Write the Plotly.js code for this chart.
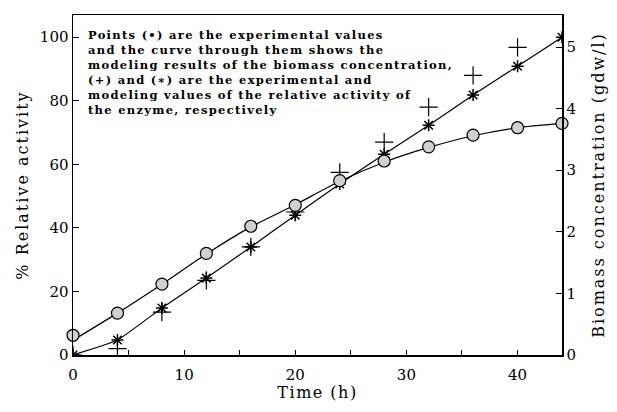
<!DOCTYPE html>
<html>
<head>
<meta charset="utf-8">
<script src="https://cdn.plot.ly/plotly-3.0.1.min.js"></script>
<style>
html,body{margin:0;padding:0;background:#fff}
#chart{width:617px;height:412px}
.ytitle,.y2title{letter-spacing:2px}
.xtitle{letter-spacing:1.5px}
.annotation-text{letter-spacing:1.3px}
</style>
</head>
<body>
<div id="chart"></div>
<script>
// Time (h)
const timeH = [0, 4, 8, 12, 16, 20, 24, 28, 32, 36, 40, 44];
// Biomass concentration (gdw/l) - experimental
const biomassExp = [0.32, 0.68, 1.15, 1.65, 2.09, 2.43, 2.83, 3.15, 3.38, 3.57, 3.69, 3.76];
// Biomass - model curve
const biomassModel = [0.24, 0.68, 1.15, 1.64, 2.08, 2.44, 2.82, 3.13, 3.37, 3.56, 3.69, 3.76];
// Relative activity (%) - experimental (+)
const activityTime = [0, 4, 8, 12, 16, 20, 24, 28, 32, 36, 40];
const activityExp = [0, 2, 13.5, 23.5, 34, 45, 57.5, 67, 78, 88, 96.8];
// Relative activity (%) - model (*)
const activityModel = [0, 4.7, 14.8, 24.2, 34, 44, 53.8, 63.2, 72.3, 81.8, 90.9, 100];

const noteLines = [
  "Points (\u2022) are the experimental values",
  "and the curve through them shows the",
  "modeling results of the biomass concentration,",
  "(+) and (\u2217) are the experimental and",
  "modeling values of the relative activity of",
  "the enzyme, respectively"
];

const serif = "DejaVu Serif, Liberation Serif, serif";

const traces = [
  {x: timeH, y: biomassModel, yaxis: 'y2', mode: 'lines', line: {color: '#000', width: 1.2, shape: 'spline', smoothing: 0.6}, showlegend: false, hoverinfo: 'skip'},
  {x: timeH, y: activityModel, mode: 'lines+markers', line: {color: '#000', width: 1.2, shape: 'spline', smoothing: 0.4},
   marker: {symbol: 'asterisk-open', size: 10, color: '#000', line: {color: '#000', width: 1.5}}, showlegend: false},
  {x: activityTime, y: activityExp, mode: 'markers',
   marker: {symbol: 'cross-thin-open', size: 13, color: '#000', line: {color: '#000', width: 1.2}}, showlegend: false},
  {x: timeH, y: biomassExp, yaxis: 'y2', mode: 'markers',
   marker: {symbol: 'circle', size: 12, color: '#d0d0d0', line: {color: '#000', width: 1.2}}, showlegend: false, cliponaxis: false}
];

const layout = {
  width: 617, height: 412,
  margin: {l: 73, r: 55, t: 15, b: 57},
  paper_bgcolor: '#fff', plot_bgcolor: '#fff',
  font: {family: serif, color: '#000', size: 15},
  xaxis: {
    range: [0, 44], tickvals: [0, 10, 20, 30, 40], ticks: 'inside', ticklen: 5, tickcolor: '#000',
    minor: {tickvals: [5, 15, 25, 35], ticks: 'inside', ticklen: 5, tickcolor: '#000'},
    showline: true, linecolor: '#000', linewidth: 1.5, mirror: true, showgrid: false, zeroline: false,
    tickfont: {size: 15, family: serif}, ticklabelstandoff: 5,
    title: {text: 'Time (h)', font: {size: 16, family: serif}, standoff: 1}
  },
  yaxis: {
    range: [0, 107], tickvals: [0, 20, 40, 60, 80, 100], ticks: 'inside', ticklen: 6, tickcolor: '#000',
    showline: true, linecolor: '#000', linewidth: 1.5, showgrid: false, zeroline: false,
    tickfont: {size: 15, family: serif},
    title: {text: '% Relative activity', font: {size: 16, family: serif}, standoff: 7}
  },
  yaxis2: {
    overlaying: 'y', side: 'right', range: [0, 5.52], tickvals: [0, 1, 2, 3, 4, 5], ticks: 'inside', ticklen: 6, tickcolor: '#000',
    showline: true, linecolor: '#000', linewidth: 1.5, showgrid: false, zeroline: false,
    tickfont: {size: 15, family: serif},
    title: {text: 'Biomass concentration (gdw/l)', font: {size: 16, family: serif}, standoff: 18}
  },
  annotations: [{
    xref: 'paper', yref: 'paper', x: 0.026, y: 0.968, xanchor: 'left', yanchor: 'top', align: 'left',
    text: noteLines.join('<br>'), showarrow: false,
    font: {size: 11.5, family: serif, color: '#000', weight: 'bold'}
  }]
};

Plotly.newPlot('chart', traces, layout, {staticPlot: true, displayModeBar: false});
</script>
</body>
</html>
